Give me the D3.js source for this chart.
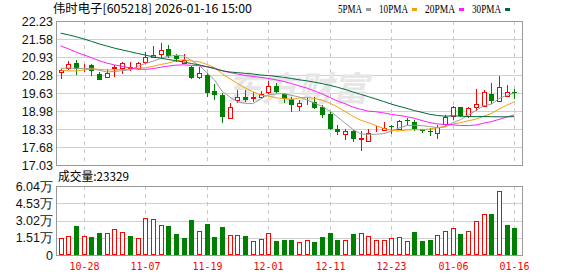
<!DOCTYPE html>
<html>
<head>
<meta charset="utf-8">
<script src="https://cdn.jsdelivr.net/npm/d3@7"></script>
<style>
  body { margin: 0; background: #fff; }
  svg { display: block; }
</style>
</head>
<body>
<svg id="chart" width="578" height="276"></svg>
<script>
// trading days shown in the window
const dates = ['10-23','10-24','10-27','10-28','10-29','10-30','10-31','11-03','11-04','11-05',
  '11-06','11-07','11-10','11-11','11-12','11-13','11-14','11-17','11-18','11-19',
  '11-20','11-21','11-24','11-25','11-26','11-27','11-28','12-01','12-02','12-03',
  '12-04','12-05','12-08','12-09','12-10','12-11','12-12','12-15','12-16','12-17',
  '12-18','12-19','12-22','12-23','12-24','12-25','12-26','12-29','12-30','12-31',
  '01-05','01-06','01-07','01-08','01-09','01-12','01-13','01-14','01-15','01-16'];

const open  = [20.38,20.54,20.71,20.52,20.63,20.30,20.22,20.55,20.55,20.55,
  20.52,20.74,20.93,21.04,21.22,20.98,20.72,20.58,20.21,20.28,
  19.70,19.54,18.73,19.36,19.49,19.46,19.50,19.67,19.88,19.59,
  19.42,19.16,19.37,19.30,19.12,18.88,18.33,18.14,18.26,17.96,
  17.90,18.24,18.29,18.45,18.34,18.67,18.57,18.33,18.26,18.20,
  18.51,18.81,19.11,18.79,19.11,19.17,19.59,19.35,19.52,19.66];
const high  = [20.50,20.79,20.83,20.67,20.67,20.38,20.49,20.65,20.74,20.74,
  20.74,21.10,21.33,21.42,21.36,21.04,21.03,20.60,20.58,20.34,
  19.96,19.63,19.27,19.74,19.74,19.65,19.71,20.05,20.00,19.64,
  19.50,19.39,19.47,19.47,19.20,18.93,18.48,18.32,18.28,18.26,
  18.33,18.44,18.60,18.49,18.65,18.72,18.65,18.33,18.35,18.49,
  18.84,19.17,19.14,19.14,19.76,19.75,19.99,20.24,19.92,19.76];
const low   = [20.12,20.47,20.28,20.40,20.24,20.11,20.19,20.22,20.31,20.43,
  20.45,20.68,20.90,20.91,20.91,20.75,20.67,20.12,20.13,19.50,
  19.38,18.54,18.73,19.27,19.30,19.29,19.41,19.58,19.63,19.28,
  18.94,18.98,19.18,19.05,18.71,18.31,18.13,17.95,17.86,17.52,
  17.90,18.22,18.27,18.15,18.29,18.44,18.26,18.17,18.08,17.97,
  18.44,18.65,18.76,18.72,18.99,19.12,19.23,19.31,19.50,19.40];
const close = [20.45,20.67,20.49,20.55,20.44,20.11,20.36,20.58,20.70,20.57,
  20.70,20.92,21.00,21.20,20.98,20.85,20.82,20.17,20.36,19.64,
  19.54,18.75,19.14,19.50,19.36,19.48,19.58,19.89,19.68,19.41,
  19.18,19.27,19.39,19.09,18.82,18.32,18.22,18.26,17.96,18.02,
  18.20,18.27,18.35,18.39,18.62,18.64,18.33,18.26,18.24,18.42,
  18.75,19.11,18.81,19.08,19.22,19.65,19.35,19.84,19.65,19.63];
// volume, in 万 shares
const volume = [1.46,1.64,2.54,1.64,1.55,1.93,1.90,2.25,2.01,1.66,
  1.46,3.21,3.12,2.60,2.54,1.84,1.49,3.06,2.07,2.71,
  1.58,2.45,1.72,1.72,1.66,1.20,1.37,1.93,1.23,1.31,
  1.31,1.14,1.28,1.14,1.58,1.93,1.31,1.28,1.84,1.90,
  1.64,1.28,1.28,1.46,1.55,1.20,2.01,1.23,1.31,1.72,
  2.07,2.34,1.84,2.07,2.95,3.59,3.62,5.57,2.63,2.33];
// closes before the window, only used to seed the moving averages
const priorCloses = [22.4,22.6,22.9,23.1,22.8,22.7,22.9,22.6,22.5,22.6,
  22.7,22.9,22.6,22.4,22.3,22.1,21.9,21.8,21.6,21.7,
  21.0,20.5,20.2,20.1,20.2,20.6,20.55,20.6,20.4];

const priceTicks = [22.23,21.58,20.93,20.28,19.63,18.98,18.33,17.68,17.03];
const volTicks = [6.04,4.53,3.02,1.51,0];
const volTickLabels = ['6.04万','4.53万','3.02万','1.51万','0'];
const dateTicks = ['10-28','11-07','11-19','12-01','12-11','12-23','01-06','01-16'];
const maPeriods = [5,10,20,30];
const maColors = ['#9c9c9c','#f2a10d','#ff1cff','#006b35'];
const maLabels = ['5PMA','10PMA','20PMA','30PMA'];
const title = '伟时电子[605218] 2026-01-16 15:00';
const volTitle = '成交量:23329';

const RED = '#ff0000', GREEN = '#008000';
const L = 56, R = 522, pTop = 21, pBot = 165, vTop = 186, vBot = 255;

const svg = d3.select('#chart');
const x = d3.scaleLinear().domain([-0.6, 60]).range([L, R]);
const y = d3.scaleLinear().domain([17.03, 22.23]).range([pBot, pTop]);
const yv = d3.scaleLinear().domain([0, 6.04]).range([vBot, vTop]);
const px = v => Math.round(v) + 0.5;

const allCloses = priorCloses.concat(close);
const maData = maPeriods.map(n => close.map((c, i) => {
  const end = i + priorCloses.length + 1;
  return d3.mean(allCloses.slice(end - n, end));
}));

// --- grids ---
const grid = svg.append('g');
priceTicks.slice(1, -1).forEach(t => {
  grid.append('line').attr('x1', L).attr('x2', R)
    .attr('y1', px(y(t))).attr('y2', px(y(t))).attr('stroke', '#d0d0d0');
});
volTicks.slice(1, -1).forEach(t => {
  grid.append('line').attr('x1', L).attr('x2', R)
    .attr('y1', px(yv(t))).attr('y2', px(yv(t))).attr('stroke', '#d0d0d0');
});
dateTicks.forEach(d => {
  const xi = px(x(dates.indexOf(d)));
  [[pTop, pBot], [vTop, vBot]].forEach(([a, b]) => {
    grid.append('line').attr('x1', xi).attr('x2', xi).attr('y1', a).attr('y2', b)
      .attr('stroke', '#c8c8c8').attr('stroke-dasharray', '4,4');
  });
});

// watermark
svg.append('text').attr('x', 226).attr('y', 101)
  .attr('font-family', '"Noto Sans CJK SC"').attr('font-size', 34).attr('font-weight', 'bold')
  .attr('font-style', 'italic').attr('fill', '#e6e6e6')
  .attr('textLength', 142).attr('lengthAdjust', 'spacingAndGlyphs').text('东方财富');

// --- candles ---
const candles = svg.append('g');
close.forEach((c, i) => {
  const o = open[i], up = c >= o, col = up ? RED : GREEN, cx = px(x(i));
  const top = Math.round(y(Math.max(o, c))), bot = Math.round(y(Math.min(o, c)));
  candles.append('line').attr('x1', cx).attr('x2', cx)
    .attr('y1', Math.round(y(high[i]))).attr('y2', Math.round(y(low[i]))).attr('stroke', col);
  if (up) {
    candles.append('rect').attr('x', cx - 2).attr('y', top + 0.5)
      .attr('width', 4).attr('height', Math.max(bot - top, 0))
      .attr('fill', '#fff').attr('stroke', col);
  } else {
    candles.append('rect').attr('x', cx - 2.5).attr('y', top)
      .attr('width', 5).attr('height', Math.max(bot - top, 1)).attr('fill', col);
  }
});

// moving averages
const line = d3.line().x((d, i) => x(i)).y(d => y(d));
maData.forEach((m, k) => {
  svg.append('path').attr('d', line(m)).attr('fill', 'none')
    .attr('stroke', maColors[k]).attr('stroke-width', 1);
});

// --- volume ---
const vol = svg.append('g');
volume.forEach((v, i) => {
  const prev = i ? close[i - 1] : priorCloses[priorCloses.length - 1];
  const up = close[i] >= prev, col = up ? RED : GREEN, cx = px(x(i));
  const top = Math.round(yv(v));
  if (up) {
    vol.append('rect').attr('x', cx - 2).attr('y', top + 0.5)
      .attr('width', 4).attr('height', vBot - top - 1)
      .attr('fill', '#fff').attr('stroke', col);
  } else {
    vol.append('rect').attr('x', cx - 2.5).attr('y', top)
      .attr('width', 5).attr('height', vBot - top).attr('fill', col);
  }
});

// frames
[[pTop, pBot], [vTop, vBot]].forEach(([a, b]) => {
  svg.append('rect').attr('x', L + 0.5).attr('y', a + 0.5)
    .attr('width', R - L).attr('height', b - a)
    .attr('fill', 'none').attr('stroke', '#999');
});

// --- axis labels ---
const lab = svg.append('g').attr('font-family', '"Liberation Sans", Arial, sans-serif')
  .attr('font-size', 12.5).attr('fill', '#111').attr('text-anchor', 'end');
priceTicks.forEach(t => {
  lab.append('text').attr('x', 53).attr('y', y(t) + 4.5).text(t.toFixed(2));
});
volTicks.forEach((t, k) => {
  lab.append('text').attr('x', 53).attr('y', yv(t) + 4.5).text(volTickLabels[k]);
});

svg.append('g').attr('font-family', '"DejaVu Sans Mono", monospace').attr('font-size', 11)
  .attr('fill', RED).attr('text-anchor', 'middle')
  .selectAll('text').data(dateTicks).join('text')
  .attr('x', d => px(x(dates.indexOf(d)))).attr('y', 270)
  .attr('textLength', 30).attr('lengthAdjust', 'spacingAndGlyphs').text(d => d);

// title and volume caption
svg.append('text').attr('x', 53).attr('y', 13)
  .attr('font-family', '"Noto Sans CJK SC", sans-serif').attr('font-size', 12)
  .attr('textLength', 199).attr('lengthAdjust', 'spacingAndGlyphs').text(title);
svg.append('text').attr('x', 58).attr('y', 181)
  .attr('font-family', '"Noto Sans CJK SC", sans-serif').attr('font-size', 12)
  .attr('textLength', 71).attr('lengthAdjust', 'spacingAndGlyphs').text(volTitle);

// legend
const lens = [24, 29, 30, 29];
let lx = 338;
maLabels.forEach((t, k) => {
  svg.append('text').attr('x', lx).attr('y', 12.5)
    .attr('font-family', '"Liberation Serif", serif').attr('font-size', 12.5)
    .attr('textLength', lens[k]).attr('lengthAdjust', 'spacingAndGlyphs').text(t);
  lx += lens[k] + 4;
  svg.append('rect').attr('x', lx).attr('y', 8).attr('width', 5).attr('height', 3)
    .attr('fill', maColors[k]);
  lx += 5 + 8;
});
</script>
</body>
</html>
